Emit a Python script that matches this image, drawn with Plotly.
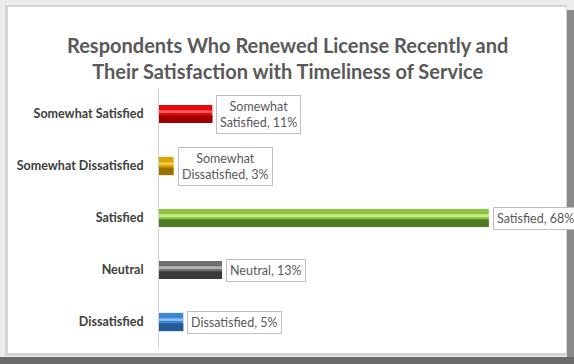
import plotly.graph_objects as go

categories = ["Somewhat Satisfied", "Somewhat Dissatisfied", "Satisfied", "Neutral", "Dissatisfied"]
values = [11, 3, 68, 13, 5]
labels = ["Somewhat<br>Satisfied, 11%", "Somewhat<br>Dissatisfied, 3%", "Satisfied, 68%",
          "Neutral, 13%", "Dissatisfied, 5%"]
mid_colors = ["#e30b0b", "#d9a300", "#8cc63f", "#6f6f6f", "#3d86d6"]
dark_colors = ["#a00000", "#9a7200", "#4e7a24", "#3a3a3a", "#255a99"]
light_colors = ["#ff5a5a", "#f5cc4a", "#c6ef8a", "#b5b5b5", "#8fc0f0"]

W, H = 574, 364
L, R, T, B = 159, 27, 88, 16
pw, ph = W - L - R, H - T - B

def px(x):
    return (x - L) / pw

def py(y):
    return (H - B - y) / ph

fig = go.Figure()
fig.add_trace(go.Bar(y=categories, x=values, orientation="h", width=0.35,
                     marker=dict(color=mid_colors, line=dict(width=0)), hoverinfo="skip"))
fig.add_trace(go.Bar(y=categories, x=values, orientation="h", width=0.15, offset=-0.175,
                     marker=dict(color=dark_colors, line=dict(width=0)), hoverinfo="skip"))
fig.add_trace(go.Bar(y=categories, x=values, orientation="h", width=0.05, offset=0.02,
                     marker=dict(color=light_colors, line=dict(width=0)), hoverinfo="skip"))

annotations = []
for c, v, t in zip(categories, values, labels):
    annotations.append(dict(x=v, y=c, xref="x", yref="y", text=t, showarrow=False,
                            xanchor="left", yanchor="middle", xshift=4, align="center",
                            font=dict(family="Lato", size=12.5, color="#595959"),
                            bgcolor="white", bordercolor="#bfbfbf", borderwidth=1, borderpad=3))
annotations.append(dict(x=px(287), y=py(58), xref="paper", yref="paper",
                        text="<b>Respondents Who Renewed License Recently and<br>Their Satisfaction with Timeliness of Service</b>",
                        showarrow=False, xanchor="center", yanchor="middle", align="center",
                        font=dict(family="Lato", size=20, color="#595959")))

shapes = [
    dict(type="rect", xref="paper", yref="paper", x0=px(5), x1=px(567), y0=py(5), y1=py(356),
         fillcolor="#d4d4d4", line=dict(width=0), layer="below"),
    dict(type="rect", xref="paper", yref="paper", x0=px(8), x1=px(566), y0=py(7), y1=py(353),
         fillcolor="white", line=dict(width=0), layer="below"),
    dict(type="rect", xref="paper", yref="paper", x0=px(567), x1=px(574), y0=py(10), y1=py(364),
         fillcolor="#8a8a8a", line=dict(width=0), layer="below"),
    dict(type="rect", xref="paper", yref="paper", x0=px(0), x1=px(574), y0=py(357), y1=py(364),
         fillcolor="#6a6a6a", line=dict(width=0), layer="below"),
]

fig.update_layout(
    width=W, height=H, margin=dict(l=L, r=R, t=T, b=B),
    paper_bgcolor="#ececec", plot_bgcolor="rgba(0,0,0,0)",
    barmode="overlay", showlegend=False,
    xaxis=dict(range=[0, 80], showgrid=False, zeroline=False, showticklabels=False, showline=False),
    yaxis=dict(categoryorder="array", categoryarray=categories[::-1], showgrid=False,
               showline=True, linecolor="#d0d0d0", linewidth=1, ticks="", ticklen=0,
               tickfont=dict(family="Lato", size=12.5, color="#404040", weight="bold"),
               ticklabelstandoff=12, automargin=False),
    annotations=annotations, shapes=shapes,
)

fig.write_html("out.html")
